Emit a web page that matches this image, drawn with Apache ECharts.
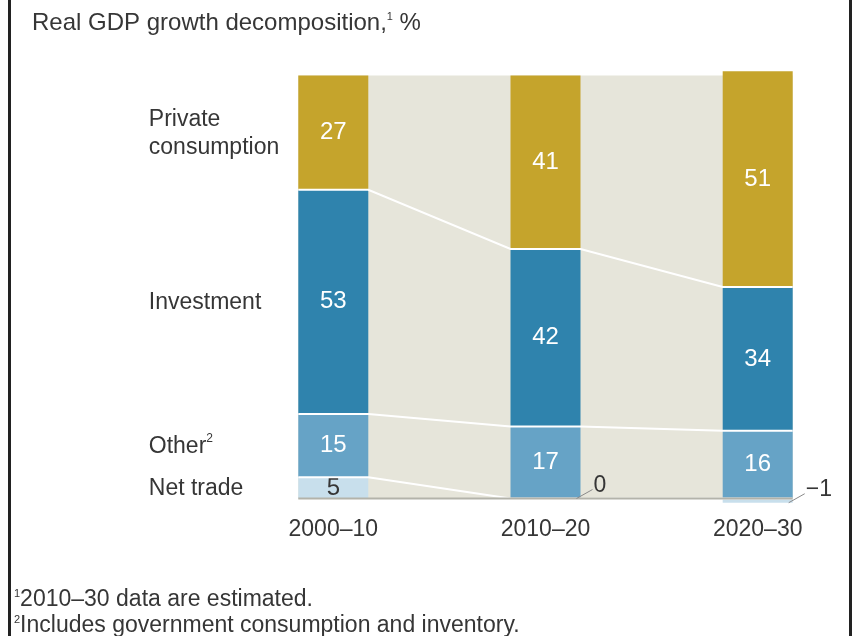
<!DOCTYPE html>
<html>
<head>
<meta charset="utf-8">
<script src="https://cdn.jsdelivr.net/npm/echarts@6/dist/echarts.min.js"></script>
<style>
  html, body { margin: 0; padding: 0; background: #fff; }
  #chart { width: 854px; height: 636px; }
</style>
</head>
<body>
<div id="chart"></div>
<script>
// Contributions to real GDP growth, % (stacked bottom-up: net trade, other, investment, private consumption)
const categories = ['2000–10', '2010–20', '2020–30'];
const privateConsumption = [27, 41, 51];
const investment = [53, 42, 34];
const other = [15, 17, 16];
const netTrade = [5, 0, -1];

const componentNames = ['Net trade', 'Other', 'Investment', 'Private\nconsumption'];
const componentNotes = ['', '2', '', ''];
const titleText = 'Real GDP growth decomposition,';
const footnotes = ['2010–30 data are estimated.', 'Includes government consumption and inventory.'];

const FONT = '"Liberation Sans", Arial, Helvetica, sans-serif';
const TEXT = '#363636';
const colors = ['#c8dfec', '#66a3c6', '#2f83ad', '#c5a42c'];
const BAND = '#e6e5da';
const BAR_W = 70;

const stackBottomUp = [netTrade, other, investment, privateConsumption];

// positive running totals: top edge of each segment for every bar
const boundaries = categories.map((_, i) => {
  let pos = 0;
  return stackBottomUp.map(s => { if (s[i] > 0) pos += s[i]; return pos; });
});
// net totals (top of the shaded band)
const totals = categories.map((_, i) => stackBottomUp.reduce((a, s) => a + s[i], 0));

const fmt = v => (v < 0 ? '\u2212' + Math.abs(v) : String(v));

const chart = echarts.init(document.getElementById('chart'), null, { renderer: 'canvas' });

const barSeries = stackBottomUp.map((values, k) => ({
  type: 'bar',
  name: componentNames[k],
  stack: 'gdp',
  barWidth: BAR_W,
  clip: false,
  z: 3,
  itemStyle: { color: colors[k] },
  data: values.map(v => ({
    value: v,
    label: { show: Math.abs(v) >= 3 }
  })),
  label: {
    position: 'inside',
    formatter: p => fmt(p.value),
    fontFamily: FONT,
    fontSize: 24,
    color: k === 0 ? TEXT : '#ffffff'
  }
}));

const supStyle = size => ({ fontFamily: FONT, fontSize: size, color: TEXT, fill: TEXT, verticalAlign: 'top', lineHeight: size + 1 });

const option = {
  animation: false,
  backgroundColor: '#ffffff',
  title: {
    text: titleText + '{sup|1} %',
    left: 27,
    top: 6,
    textStyle: {
      fontFamily: FONT, fontSize: 24, fontWeight: 'normal', color: TEXT,
      rich: { sup: supStyle(11) }
    }
  },
  grid: { left: 333.3, right: 96.3, top: 75.5, bottom: 137.5 },
  xAxis: {
    type: 'category',
    data: categories,
    boundaryGap: false,
    axisLine: { show: false },
    axisTick: { show: false },
    axisLabel: { margin: 20, fontFamily: FONT, fontSize: 23, color: TEXT }
  },
  yAxis: { type: 'value', min: 0, max: 100, show: false },
  series: [
    // shaded band between the bars
    {
      type: 'custom',
      z: 1,
      silent: true,
      data: [[0]],
      renderItem: (params, api) => {
        const pts = [];
        categories.forEach((_, i) => {
          const p = api.coord([i, totals[i]]);
          pts.push([p[0] - BAR_W / 2, p[1]], [p[0] + BAR_W / 2, p[1]]);
        });
        const l = api.coord([0, 0]);
        const r = api.coord([categories.length - 1, 0]);
        pts.push([r[0] + BAR_W / 2, r[1]], [l[0] - BAR_W / 2, l[1]]);
        return { type: 'polygon', shape: { points: pts }, style: { fill: BAND } };
      }
    },
    ...barSeries,
    // white links joining segment boundaries, plus the zero line
    {
      type: 'custom',
      z: 5,
      silent: true,
      data: [[0]],
      renderItem: (params, api) => {
        const children = [];
        for (let lvl = 0; lvl < stackBottomUp.length - 1; lvl++) {
          const pts = [];
          categories.forEach((_, i) => {
            const p = api.coord([i, boundaries[i][lvl]]);
            pts.push([p[0] - BAR_W / 2, p[1]], [p[0] + BAR_W / 2, p[1]]);
          });
          children.push({ type: 'polyline', shape: { points: pts }, style: { stroke: '#ffffff', lineWidth: 2, fill: null } });
        }
        const l = api.coord([0, 0]);
        const r = api.coord([categories.length - 1, 0]);
        children.push({
          type: 'line',
          shape: { x1: l[0] - BAR_W / 2, y1: l[1], x2: r[0] + BAR_W / 2, y2: r[1] },
          style: { stroke: '#b3b3aa', lineWidth: 2 }
        });
        return { type: 'group', children };
      }
    },
    // call-outs for net trade values too thin to hold a label
    {
      type: 'custom',
      z: 6,
      silent: true,
      data: netTrade.map((v, i) => [i, v]),
      renderItem: (params, api) => {
        const v = api.value(1);
        if (Math.abs(v) >= 3) return null;
        const p = api.coord([api.value(0), v]);
        const right = p[0] + BAR_W / 2;
        return {
          type: 'group',
          children: [
            { type: 'line', shape: { x1: right - 4, y1: p[1], x2: right + 12, y2: p[1] - 9 }, style: { stroke: '#8a8a8a', lineWidth: 1 } },
            { type: 'text', x: right + 13, y: p[1] - 13,
              style: { text: fmt(v), fontFamily: FONT, fontSize: 23, fill: TEXT, align: 'left', verticalAlign: 'middle' } }
          ]
        };
      }
    },
    // component names beside the first bar
    {
      type: 'custom',
      z: 6,
      silent: true,
      data: componentNames.map((_, k) => [0, k]),
      renderItem: (params, api) => {
        const k = api.value(1);
        const lower = k === 0 ? 0 : boundaries[0][k - 1];
        const upper = boundaries[0][k];
        const p = api.coord([0, (lower + upper) / 2]);
        const note = componentNotes[k];
        return {
          type: 'text',
          x: p[0] - 184.5,
          y: p[1] + 1,
          style: {
            text: componentNames[k] + (note ? '{sup|' + note + '}' : ''),
            fontFamily: FONT, fontSize: 23, fill: TEXT, lineHeight: 28,
            align: 'left', verticalAlign: 'middle',
            rich: { sup: supStyle(12) }
          }
        };
      }
    }
  ],
  graphic: [
    { type: 'rect', left: 8, top: 0, shape: { width: 3, height: 636 }, style: { fill: '#222222' } },
    { type: 'rect', left: 849, top: 0, shape: { width: 3, height: 636 }, style: { fill: '#222222' } },
    {
      type: 'text', left: 14, top: 588,
      style: {
        text: '{sup|1}' + footnotes[0], fontFamily: FONT, fontSize: 23, fill: TEXT,
        rich: { sup: supStyle(11) }
      }
    },
    {
      type: 'text', left: 14, top: 614,
      style: {
        text: '{sup|2}' + footnotes[1], fontFamily: FONT, fontSize: 23, fill: TEXT,
        rich: { sup: supStyle(11) }
      }
    }
  ]
};

chart.setOption(option);
</script>
</body>
</html>
